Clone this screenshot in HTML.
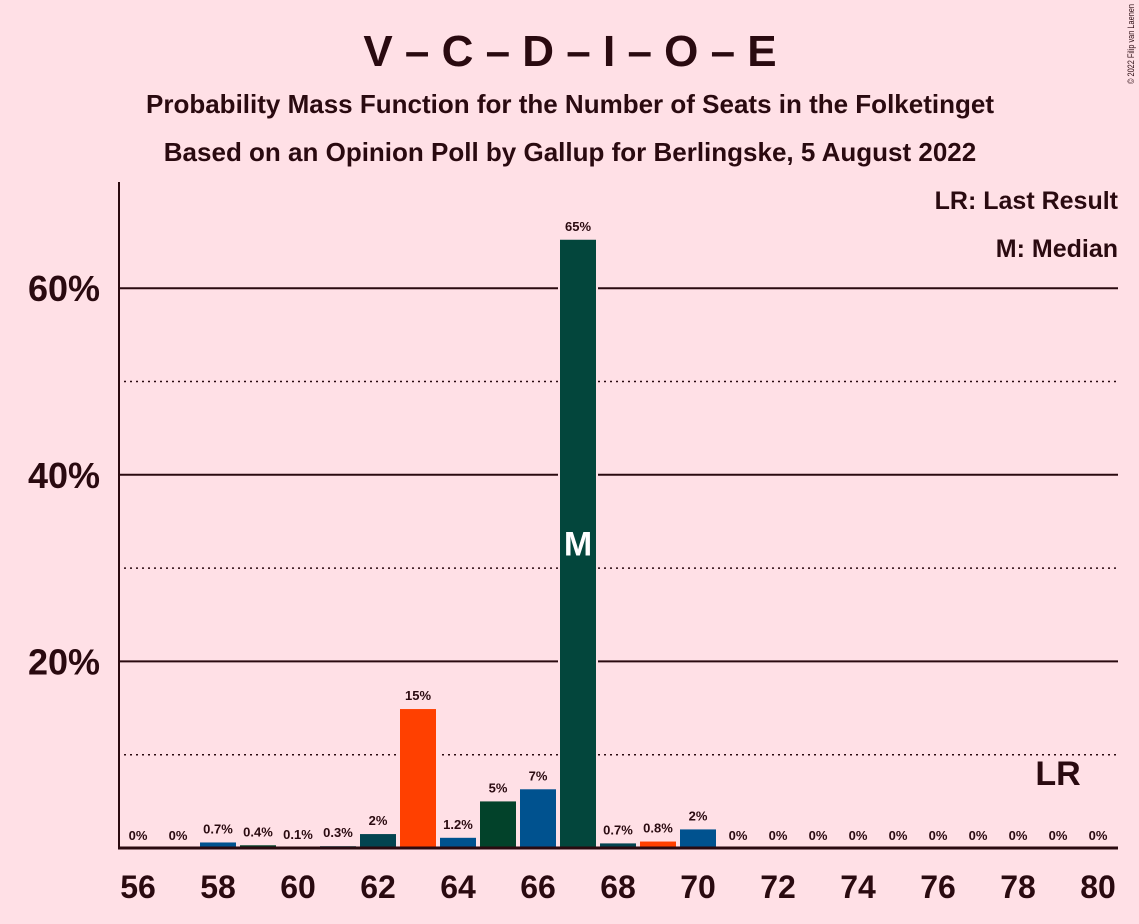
<!DOCTYPE html>
<html><head><meta charset="utf-8"><style>
body{margin:0;background:#ffe0e6;}
svg{display:block;font-family:"Liberation Sans",sans-serif;}
</style></head><body>
<svg id="c" width="1139" height="924">
<rect width="1139" height="924" fill="#ffe0e6"/>
<text x="570" y="66" text-anchor="middle" font-size="44" font-weight="bold" fill="#2a0a10">V – C – D – I – O – E</text>
<text x="570" y="113" text-anchor="middle" font-size="26" font-weight="bold" fill="#2a0a10">Probability Mass Function for the Number of Seats in the Folketinget</text>
<text x="570" y="161" text-anchor="middle" font-size="26" font-weight="bold" fill="#2a0a10">Based on an Opinion Poll by Gallup for Berlingske, 5 August 2022</text>
<text x="1134" y="84" font-size="9" textLength="80" lengthAdjust="spacingAndGlyphs" fill="#2a0a10" transform="rotate(-90 1134 84)">© 2022 Filip van Laenen</text>
<text x="1118" y="209" text-anchor="end" font-size="25" font-weight="bold" fill="#2a0a10">LR: Last Result</text>
<text x="1118" y="257" text-anchor="end" font-size="25" font-weight="bold" fill="#2a0a10">M: Median</text>
<g id="grid"></g><g id="bars"></g><g id="axes"></g>
</svg>
<script>
const seats=[56,57,58,59,60,61,62,63,64,65,66,67,68,69,70,71,72,73,74,75,76,77,78,79,80];
const probs=[0,0,0.7,0.4,0.1,0.3,1.6,15.0,1.2,5.1,6.4,65.3,0.6,0.8,2.1,0,0,0,0,0,0,0,0,0,0];
const labels=["0%","0%","0.7%","0.4%","0.1%","0.3%","2%","15%","1.2%","5%","7%","65%","0.7%","0.8%","2%","0%","0%","0%","0%","0%","0%","0%","0%","0%","0%"];
const colors=["#00528f","#00528f","#00528f","#02422a","#00528f","#034450","#034450","#ff4000","#00528f","#02422a","#00528f","#03463c","#034450","#ff4000","#00528f","#00528f","#00528f","#00528f","#00528f","#00528f","#00528f","#00528f","#00528f","#00528f","#00528f"];
const yTicks=[20,40,60];
const dotTicks=[10,30,50];
const xTickLabels=[56,58,60,62,64,66,68,70,72,74,76,78,80];
const medianSeat=67, lastResultSeat=79;
const ns="http://www.w3.org/2000/svg";
const x=s=>138+(s-56)*40;
const y=v=>848-v*9.33;
function mk(t,a,p){const e=document.createElementNS(ns,t);for(const k in a)e.setAttribute(k,a[k]);p.appendChild(e);return e;}
const G=document.getElementById('grid'),B=document.getElementById('bars'),A=document.getElementById('axes');
dotTicks.forEach(v=>{const l=mk('line',{x1:118,x2:1118,y1:y(v),y2:y(v),stroke:'#2a0a10','stroke-width':1.5,'stroke-dasharray':'2,4'},G);

});
yTicks.forEach(v=>{const l=mk('line',{x1:118,x2:1118,y1:y(v),y2:y(v),stroke:'#2a0a10','stroke-width':2},G);


const t=mk('text',{x:100,y:y(v)+13,'text-anchor':'end','font-size':36,'font-weight':'bold',fill:'#2a0a10'},A);t.textContent=v+'%';

});
seats.forEach((s,i)=>{const h=probs[i]*9.33;
if(probs[i]>0){const r=mk('rect',{x:x(s)-19,y:y(probs[i]),width:38,height:h,fill:colors[i],stroke:'#ffe0e6','stroke-width':2},B);

}
const t=mk('text',{x:x(s),y:y(probs[i])-8,'text-anchor':'middle','font-size':13,'font-weight':'bold',fill:'#2a0a10'},B);t.textContent=labels[i];


if(s===medianSeat){const m=mk('text',{x:x(s),y:y(probs[i]/2)+12,'text-anchor':'middle','font-size':34,'font-weight':'bold',fill:'#fff'},B);m.textContent='M';

}
if(s===lastResultSeat){const m=mk('text',{x:x(s),y:y(probs[i])-63,'text-anchor':'middle','font-size':34,'font-weight':'bold',fill:'#2a0a10'},B);m.textContent='LR';

}
});
const ax=mk('line',{x1:119,x2:119,y1:182,y2:849,stroke:'#2a0a10','stroke-width':2},A);


const bx=mk('line',{x1:118,x2:1118,y1:848,y2:848,stroke:'#2a0a10','stroke-width':3},A);


xTickLabels.forEach(s=>{const t=mk('text',{x:x(s),y:898,'text-anchor':'middle','font-size':32,'font-weight':'bold',fill:'#2a0a10'},A);t.textContent=s;

});
</script>
</body></html>
